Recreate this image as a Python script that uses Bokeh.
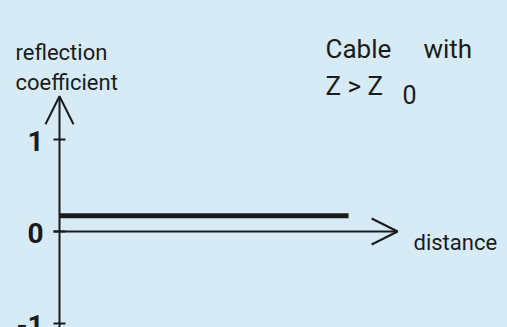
from bokeh.plotting import figure
from bokeh.models import Range1d, Arrow, OpenHead, Label
from bokeh.embed import file_html
from bokeh.resources import INLINE
from bokeh.core.properties import value

# ---- data ----
cable_distance = [0, 10]
reflection_coefficient = [0.17, 0.17]
y_ticks = [1, 0, -1]
y_tick_labels = ["1", "0", "-1"]
y_axis_label = ["reflection", "coefficient"]
x_axis_label = "distance"
title_words = ["Cable", "with"]
title_line2 = "Z > Z"
title_subscript = "0"

# ---- layout ----
W, H = 507, 327
BG = "#d6ebf6"
INK = "#1b1b1b"
FONT = "Roboto"
PX_X = 28.9          # pixels per distance unit
PX_Y = 92.0          # pixels per reflection unit
ORIGIN = (59, 231)   # origin position in canvas pixels (from left, from top)
X_AXIS_END = 11.7    # distance where the x arrow tip sits
Y_AXIS_END = 1.47    # reflection value where the y arrow tip sits

x_range = Range1d(-ORIGIN[0] / PX_X, (W - ORIGIN[0]) / PX_X)
y_range = Range1d(-(H - ORIGIN[1]) / PX_Y, ORIGIN[1] / PX_Y)

p = figure(width=W, height=H, x_range=x_range, y_range=y_range,
           output_backend="svg", toolbar_location=None, min_border=0,
           background_fill_color=BG, border_fill_color=BG)
p.axis.visible = False
p.grid.visible = False
p.outline_line_color = None

tick_px = 6 / PX_X

# y axis with arrow
p.add_layout(Arrow(end=OpenHead(size=28, line_width=2, line_color=INK),
                   x_start=0, y_start=y_range.start, x_end=0, y_end=Y_AXIS_END,
                   line_width=2, line_color=INK))
# x axis with arrow
p.add_layout(Arrow(end=OpenHead(size=26, line_width=2, line_color=INK),
                   x_start=-tick_px, y_start=0, x_end=X_AXIS_END, y_end=0,
                   line_width=2, line_color=INK))
# ticks
p.segment(x0=[-tick_px] * len(y_ticks), x1=[tick_px] * len(y_ticks),
          y0=y_ticks, y1=y_ticks, line_width=2, line_color=INK)
p.text(x=[0] * len(y_ticks), y=y_ticks, text=y_tick_labels, x_offset=-16, y_offset=1,
       text_align="right", text_baseline="middle", text_font=value(FONT),
       text_font_style="bold", text_font_size="28px", text_color=INK)

# the cable's reflection coefficient
p.line(cable_distance, reflection_coefficient, line_width=5, line_color=INK)

def lab(text, x, y, size, **kw):
    p.add_layout(Label(x=x, y=H - y, x_units="screen", y_units="screen", text=text,
                       text_font=FONT, text_font_size=size, text_color=INK,
                       text_baseline="alphabetic", **kw))

lab(y_axis_label[0], 15, 52, "22px")
lab(y_axis_label[1], 15, 82, "22px")
lab(title_words[0], 325, 48, "26px")
lab(title_words[1], 423, 48, "26px")
lab(title_line2, 325, 85, "26px")
lab(title_subscript, 402, 94, "25px")
lab(x_axis_label, 413, 242, "22px")

template = """{% block inner_head %}{{ super() }}
<style>html, body { margin: 0 !important; padding: 0 !important; background: #d6ebf6 !important; overflow: hidden; }</style>
{% endblock %}"""

open("out.html", "w").write(file_html(p, INLINE, template=template))
